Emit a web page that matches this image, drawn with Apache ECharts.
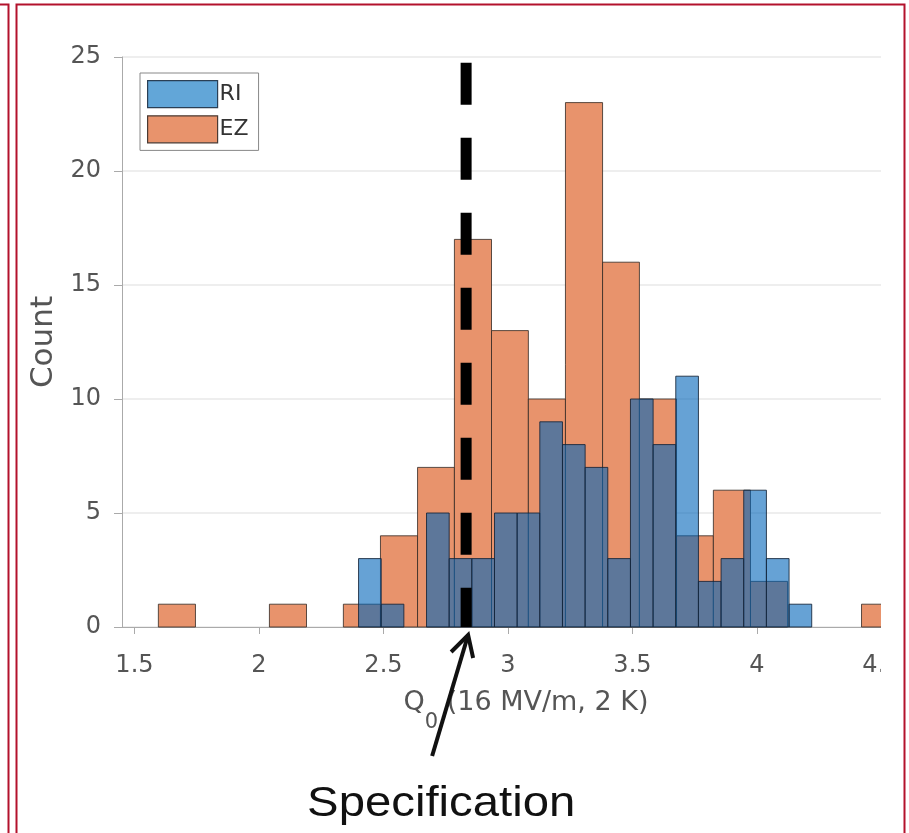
<!DOCTYPE html>
<html>
<head>
<meta charset="utf-8">
<script src="https://cdn.jsdelivr.net/npm/echarts@6/dist/echarts.min.js"></script>
<style>html,body{margin:0;padding:0;background:#fff;}#c{width:909px;height:833px;}</style>
</head>
<body>
<div id="c"></div>
<script>
// ---- data ----
const xTicks = [1.5, 2, 2.5, 3, 3.5, 4, 4.5];
const ezEdges = [1.596, 1.745, 1.894, 2.042, 2.191, 2.339, 2.488, 2.637, 2.785, 2.934, 3.082, 3.231, 3.380, 3.528, 3.677, 3.825, 3.974, 4.123, 4.271, 4.420, 4.568];
const ezCounts = [1, 0, 0, 1, 0, 1, 4, 7, 17, 13, 10, 23, 16, 10, 4, 6, 2, 0, 0, 1];
const riEdges = [2.400, 2.491, 2.582, 2.673, 2.764, 2.855, 2.946, 3.037, 3.128, 3.219, 3.310, 3.401, 3.492, 3.583, 3.674, 3.765, 3.856, 3.947, 4.038, 4.129, 4.220];
const riCounts = [3, 1, 0, 5, 3, 3, 5, 5, 9, 8, 7, 3, 10, 8, 11, 2, 3, 6, 3, 1];
const specX = 2.832;
const specTop = 24.75;

function toBins(edges, counts) {
  return counts.map((c, i) => [edges[i], edges[i + 1], c]);
}

function makeRender(fill, stroke) {
  return function (params, api) {
    const x0 = api.value(0), x1 = api.value(1), c = api.value(2);
    if (!c) return null;
    const p0 = api.coord([x0, 0]);
    const p1 = api.coord([x1, c]);
    const cs = params.coordSys;
    const r = echarts.graphic.clipRectByRect(
      { x: p0[0], y: p1[1], width: p1[0] - p0[0], height: p0[1] - p1[1] },
      { x: cs.x, y: cs.y, width: cs.width, height: cs.height });
    if (!r) return null;
    return { type: 'rect', shape: r, style: { fill: fill, stroke: stroke, lineWidth: 1 } };
  };
}

const FONT = 'DejaVu Sans';
const blueFill = 'rgba(0,100,185,0.6)';
const orangeFill = '#e8936c';

const chart = echarts.init(document.getElementById('c'), null, { renderer: 'canvas' });

const option = {
  backgroundColor: '#fff',
  animation: false,
  grid: { left: 122, right: -21, top: 57, bottom: 206, containLabel: false, outerBoundsMode: 'none' },
  legend: {
    left: 140, top: 73, orient: 'vertical',
    itemWidth: 70, itemHeight: 27, itemGap: 7,
    padding: [7, 10, 7, 7],
    borderColor: '#888', borderWidth: 1,
    icon: 'rect',
    textStyle: { fontFamily: FONT, fontSize: 22, color: '#333', padding: [0, 0, 0, -3] },
    data: [
      { name: 'RI', itemStyle: { color: '#62a6d8', borderColor: '#2a3f55', borderWidth: 1.2 } },
      { name: 'EZ', itemStyle: { color: orangeFill, borderColor: '#4a3a33', borderWidth: 1.2 } }
    ]
  },
  xAxis: {
    type: 'value', min: 1.45, max: 4.695,
    name: '{q|Q}{s|0}{q| (16 MV/m, 2 K)}',
    nameLocation: 'middle', nameGap: 62,
    nameTextStyle: {
      color: '#555', fontFamily: FONT, fontSize: 27,
      rich: {
        q: { fontFamily: FONT, fontSize: 27, color: '#555', verticalAlign: 'top' },
        s: { fontFamily: FONT, fontSize: 21, color: '#555', verticalAlign: 'top', padding: [23, 0, 0, 0] }
      }
    },
    axisLine: { show: true, lineStyle: { color: '#aaa', width: 1 } },
    axisTick: { show: true, length: 7, lineStyle: { color: '#aaa' }, customValues: xTicks },
    axisLabel: { customValues: xTicks, margin: 27, color: '#555', fontFamily: FONT, fontSize: 24 },
    splitLine: { show: false }
  },
  yAxis: {
    type: 'value', min: 0, max: 25, interval: 5,
    name: 'Count', nameLocation: 'middle', nameGap: 55,
    nameTextStyle: { color: '#555', fontFamily: FONT, fontSize: 31 },
    axisLine: { show: true, lineStyle: { color: '#aaa', width: 1 } },
    axisTick: { show: true, length: 8, lineStyle: { color: '#aaa' } },
    axisLabel: { margin: 21, color: '#555', fontFamily: FONT, fontSize: 24 },
    splitLine: { show: true, lineStyle: { color: '#e8e8e8', width: 1.5 } }
  },
  series: [
    {
      name: 'EZ', type: 'custom', z: 2,
      renderItem: makeRender(orangeFill, 'rgba(50,40,35,0.8)'),
      encode: { x: [0, 1], y: 2 },
      itemStyle: { color: orangeFill },
      data: toBins(ezEdges, ezCounts)
    },
    {
      name: 'RI', type: 'custom', z: 3,
      renderItem: makeRender(blueFill, 'rgba(20,35,55,0.85)'),
      encode: { x: [0, 1], y: 2 },
      itemStyle: { color: '#62a6d8' },
      data: toBins(riEdges, riCounts)
    },
    {
      name: 'Specification', type: 'line', z: 10, silent: true,
      symbol: 'none',
      lineStyle: { color: '#000', width: 11, type: [42, 33], cap: 'butt' },
      data: [[specX, specTop], [specX, 0]]
    }
  ]
};
chart.setOption(option);

// annotation (arrow + label) anchored to the specification value on the axis
const tip = chart.convertToPixel({ xAxisIndex: 0, yAxisIndex: 0 }, [specX, 0]);
const tx = tip[0] + 2, ty = tip[1] + 8;
const red = '#b3122c';
chart.setOption({
  graphic: [
    { type: 'polyline', z: 50, shape: { points: [[tx - 36, ty + 121], [tx, ty]] }, style: { stroke: '#111', lineWidth: 4, fill: null } },
    { type: 'polyline', z: 50, shape: { points: [[tx - 17, ty + 17], [tx, ty], [tx + 5, ty + 23]] }, style: { stroke: '#111', lineWidth: 4, fill: null, lineJoin: 'miter' } },
    { type: 'text', z: 50, x: tx - 161, y: ty + 169, scaleX: 1.1,
      style: { text: 'Specification', font: '43px "Liberation Sans", Arial, sans-serif', fill: '#111', textAlign: 'left', textVerticalAlign: 'middle' } },
    // crop region on the right of the picture
    { type: 'rect', z: 90, shape: { x: 881, y: 0, width: 28, height: 833 }, style: { fill: '#fff' } },
    // frames
    { type: 'polyline', z: 95, shape: { points: [[0, 4.5], [8.5, 4.5], [8.5, 833]] }, style: { stroke: red, lineWidth: 2, fill: null } },
    { type: 'polyline', z: 95, shape: { points: [[16.5, 833], [16.5, 4.5], [904.5, 4.5], [904.5, 833]] }, style: { stroke: red, lineWidth: 2, fill: null } }
  ]
});
</script>
</body>
</html>
